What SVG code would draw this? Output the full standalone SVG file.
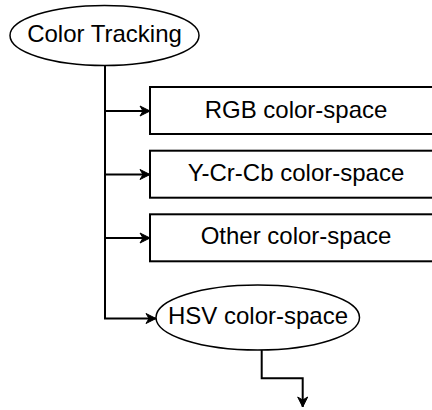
<svg xmlns="http://www.w3.org/2000/svg" width="432" height="410" viewBox="0 0 432 410">
  <style>
    .shape { fill: #ffffff; stroke: #000000; }
    .ell { stroke-width: 1.5; }
    .box { stroke-width: 2; }
    .label { font-family: "Liberation Sans", Arial, sans-serif; font-size: 24px; fill: #000000; text-anchor: middle; }
    .wire { fill: none; stroke: #000000; stroke-width: 2; }
  </style>
  <defs>
    <marker id="arrow" markerUnits="userSpaceOnUse" markerWidth="14" markerHeight="14" refX="11" refY="6" orient="auto">
      <path d="M1,1 L11,6 L1,11 L4,6 z" fill="#000000" stroke="#000000" stroke-width="1" stroke-linejoin="miter"/>
    </marker>
  </defs>
  <rect width="432" height="410" fill="#ffffff"/>

  <!-- connectors -->
  <g id="connectors">
    <path class="wire" d="M105,65.5 V318.5 H156" marker-end="url(#arrow)"/>
    <path class="wire" d="M105,111 H150" marker-end="url(#arrow)"/>
    <path class="wire" d="M105,174.5 H150" marker-end="url(#arrow)"/>
    <path class="wire" d="M105,238 H150" marker-end="url(#arrow)"/>
    <path class="wire" d="M261.7,350 V378.3 H302.7 V407" marker-end="url(#arrow)"/>
  </g>

  <g id="color-tracking">
    <ellipse class="shape ell" cx="104.5" cy="35.5" rx="94.5" ry="30"/>
    <text class="label" x="104.5" y="41.5">Color Tracking</text>
  </g>

  <g id="rgb">
    <rect class="shape box" x="150" y="87" width="292" height="47"/>
    <text class="label" x="296" y="117.5">RGB color-space</text>
  </g>

  <g id="ycrcb">
    <rect class="shape box" x="150" y="150.7" width="292" height="47"/>
    <text class="label" x="296" y="180.5">Y-Cr-Cb color-space</text>
  </g>

  <g id="other">
    <rect class="shape box" x="150" y="214.3" width="292" height="47"/>
    <text class="label" x="296" y="244">Other color-space</text>
  </g>

  <g id="hsv">
    <ellipse class="shape ell" cx="257.75" cy="317.5" rx="101.75" ry="32.5"/>
    <text class="label" x="258" y="323.5">HSV color-space</text>
  </g>
</svg>
